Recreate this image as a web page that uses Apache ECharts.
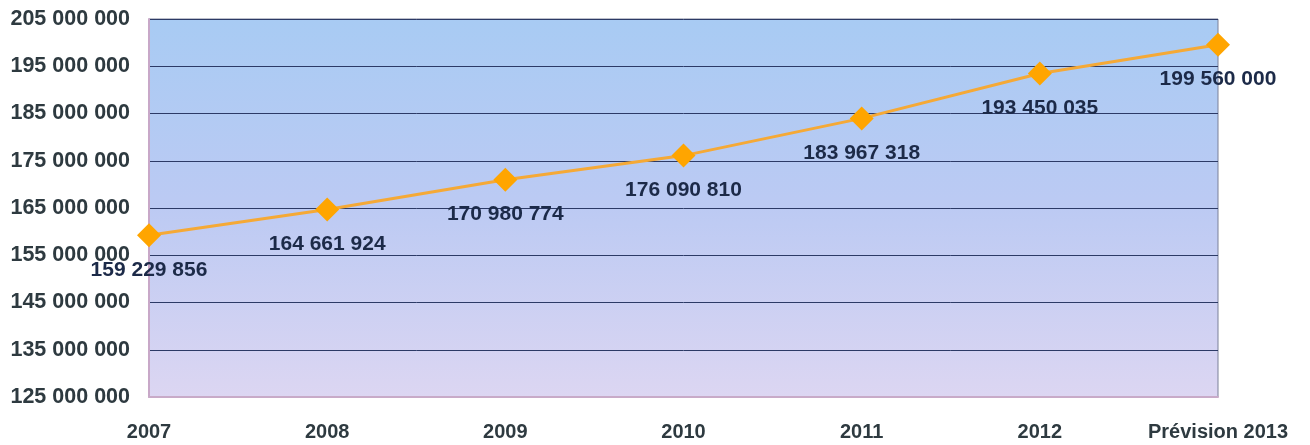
<!DOCTYPE html>
<html>
<head>
<meta charset="utf-8">
<script src="https://cdn.jsdelivr.net/npm/echarts@6/dist/echarts.min.js"></script>
<style>html,body{margin:0;padding:0;background:#fff}#c{width:1310px;height:445px}</style>
</head>
<body>
<div id="c"></div>
<script>
var categories = ['2007', '2008', '2009', '2010', '2011', '2012', 'Prévision 2013'];
var values = [159229856, 164661924, 170980774, 176090810, 183967318, 193450035, 199560000];
var yMin = 125000000, yMax = 205000000, yStep = 10000000;

function fmt(v) {
  return String(Math.round(v)).replace(/\B(?=(\d{3})+(?!\d))/g, ' ');
}

var chart = echarts.init(document.getElementById('c'));
chart.setOption({
  animation: false,
  backgroundColor: '#ffffff',
  grid: {
    left: 149, right: 92, top: 19, bottom: 48,
    show: true,
    borderColor: '#7a8098',
    borderWidth: 1,
    backgroundColor: {
      type: 'linear', x: 0, y: 0, x2: 0, y2: 1,
      colorStops: [
        {offset: 0, color: '#a8cbf3'},
        {offset: 0.5, color: '#bccaf3'},
        {offset: 1, color: '#dcd6f2'}
      ]
    }
  },
  xAxis: {
    type: 'category',
    data: categories,
    boundaryGap: false,
    axisLine: {show: true, lineStyle: {color: '#c8aac8', width: 2}},
    axisTick: {show: false},
    axisLabel: {
      interval: 0,
      hideOverlap: false,
      margin: 25,
      color: '#2e3a40',
      fontFamily: 'Liberation Sans, Arial, sans-serif',
      fontWeight: 'bold',
      fontSize: 20
    },
    splitLine: {show: false}
  },
  yAxis: {
    type: 'value',
    min: yMin, max: yMax, interval: yStep,
    axisLine: {show: true, lineStyle: {color: '#c8a8c8', width: 2}},
    axisTick: {show: false},
    axisLabel: {
      margin: 19,
      color: '#2e3a40',
      fontFamily: 'Liberation Sans, Arial, sans-serif',
      fontWeight: 'bold',
      fontSize: 21.5,
      formatter: fmt
    },
    splitLine: {show: true, lineStyle: {color: '#2c3a66', width: 1}}
  },
  series: [{
    type: 'line',
    data: values,
    symbol: 'diamond',
    symbolSize: 24,
    lineStyle: {color: '#f5a936', width: 3},
    itemStyle: {color: '#ffa500'},
    label: {
      show: true,
      position: 'bottom',
      distance: 12,
      color: '#1c2a48',
      fontFamily: 'Liberation Sans, Arial, sans-serif',
      fontWeight: 'bold',
      fontSize: 21,
      formatter: function (p) { return fmt(p.value); }
    },
    z: 5
  }]
});
</script>
</body>
</html>
